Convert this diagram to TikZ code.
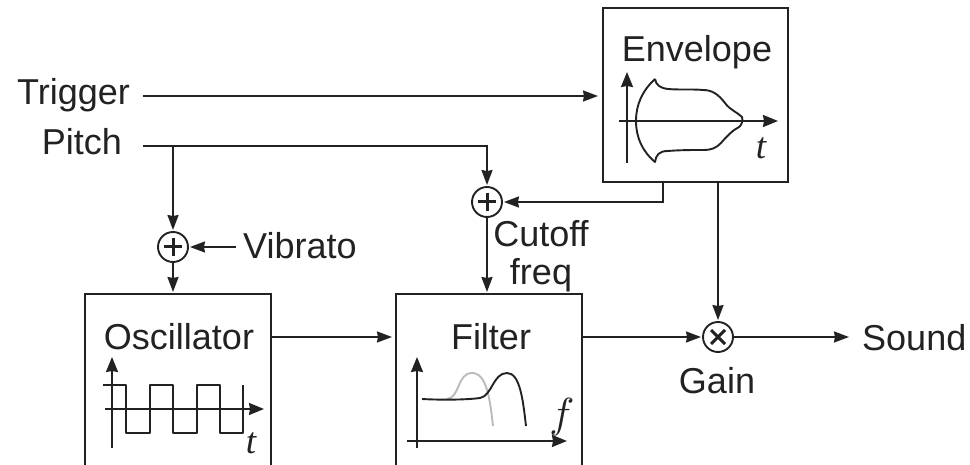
\documentclass[tikz,border=0pt]{standalone}
\usepackage{fontspec}
\setmainfont{Liberation Sans}
\newfontfamily\mathish{Liberation Serif}
\usetikzlibrary{arrows.meta,calc}
\definecolor{ink}{HTML}{222222}
\definecolor{soft}{HTML}{BBBBBB}
\tikzset{
  wire/.style={draw=ink,line width=1.9pt},
  arrowwire/.style={wire,shorten >=1pt,-{Stealth[length=15pt,width=11pt,inset=1pt]}},
  axisline/.style={draw=ink,line width=1.8pt,-{Stealth[length=15pt,width=12pt,inset=1pt]}},
  trace/.style={draw=ink,line width=1.9pt,line join=round},
  blockbox/.style={draw=ink,line width=2.2pt,inner sep=0pt,anchor=north west},
  junction/.style={circle,draw=ink,line width=1.9pt,minimum size=30pt,inner sep=0pt},
  lbl/.style={text=ink,font=\fontsize{36}{36}\selectfont,inner sep=0pt},
  varlabel/.style={text=ink,font=\mathish\itshape\fontsize{37}{37}\selectfont,inner sep=0pt},
  sign/.style={line width=3pt,draw=ink}
}
\begin{document}
\begin{tikzpicture}[x=1pt,y=-1pt]
\useasboundingbox (0,0) rectangle (970,465);
\clip (0,0) rectangle (970,465);
% blocks
\node[blockbox,minimum width=185pt,minimum height=174pt] (env) at (602,7) {};
\node[blockbox,minimum width=186pt,minimum height=200pt] (osc) at (84,293) {};
\node[blockbox,minimum width=186pt,minimum height=200pt] (fil) at (395,293) {};
% junctions
\node[junction] (pa) at (173,247) {};
\node[junction] (pb) at (487,202) {};
\node[junction] (mul) at (718,337) {};
\draw[sign] (pa.center) ++(-9,0) -- ++(18,0) (pa.center) ++(0,-9) -- ++(0,18);
\draw[sign] (pb.center) ++(-9,0) -- ++(18,0) (pb.center) ++(0,-9) -- ++(0,18);
\draw[sign] (mul.center) ++(-7,-7) -- ++(14,14) (mul.center) ++(7,-7) -- ++(-14,14);
% labels
\node[lbl,anchor=base east] (trig) at (130,105) {Trigger};
\node[lbl,anchor=base east] (pitch) at (122,155) {Pitch};
\node[lbl,anchor=base west] (vib) at (243,259) {Vibrato};
\node[lbl,anchor=base] (cut) at (541,247) {Cutoff};
\node[lbl,anchor=base] (freq) at (541,285) {freq};
\node[lbl,anchor=base] (gain) at (717,393) {Gain};
\node[lbl,anchor=base west] (snd) at (862,350) {Sound};
\node[lbl,anchor=base] (envt) at (697,62) {Envelope};
\node[lbl,anchor=base] (osct) at (179,349) {Oscillator};
\node[lbl,anchor=base] (filt) at (491,349) {Filter};
% free ends of connectors
\coordinate (trigs) at (143,96);
\coordinate (pitchs) at (143,146);
\coordinate (vibs) at (236,247);
\coordinate (tap) at (173,146);
\coordinate (envout) at (663,181);
\coordinate (envgain) at (718,181);
\coordinate (sndin) at (850,337);
% connectors
\draw[arrowwire,shorten >=4pt] (trigs) -- (trigs -| env.west);
\draw[wire] (pitchs) -- (tap);
\draw[arrowwire] (tap) -- (pb.north |- tap) -- (pb.north);
\draw[arrowwire] (tap) -- (pa.north);
\draw[arrowwire] (vibs) -- (pa.east);
\draw[arrowwire] (pa.south) -- (pa.south |- osc.north);
\draw[arrowwire] (pb.south) -- (pb.south |- fil.north);
\draw[arrowwire] (envout) -- (envout |- pb.east) -- (pb.east);
\draw[arrowwire] (envgain) -- (mul.north);
\draw[arrowwire,shorten >=3pt] (osc.east |- mul.west) -- (fil.west |- mul.west);
\draw[arrowwire] (fil.east |- mul.west) -- (mul.west);
\draw[arrowwire] (mul.east) -- (sndin);
% envelope plot
\draw[axisline] (627,163) -- (627,72);
\draw[axisline] (619,121) -- (778,121);
\draw[trace] (655,79) .. controls (642,91) and (636,105) .. (636,121)
  .. controls (636,137) and (642,151) .. (655,162)
  .. controls (656,155) and (659,151) .. (668,151)
  .. controls (680,150) and (692,150) .. (703,150)
  .. controls (712,150) and (716,148) .. (721,143)
  .. controls (727,136) and (733,130) .. (739,127)
  .. controls (742,125) and (743,120) .. (742,117)
  .. controls (737,112) and (730,110) .. (725,103)
  .. controls (718,94) and (712,90) .. (703,90)
  .. controls (692,89) and (680,90) .. (668,89)
  .. controls (660,88) and (656,85) .. (655,79);
\node[varlabel] (tenv) at (761,148) {t};
% oscillator plot
\draw[axisline] (112,448) -- (112,357);
\draw[axisline] (105,409) -- (264,409);
\draw[trace] (103,385) -- (126,385) -- (126,433) -- (150,433) -- (150,385) -- (173,385) -- (173,433) -- (197,433) -- (197,385) -- (220,385) -- (220,433) -- (243,433) -- (243,385);
\node[varlabel] (tosc) at (251,443) {t};
% filter plot
\draw[axisline] (417,448) -- (417,357);
\draw[axisline] (407,441) -- (567,441);
\draw[draw=soft,line width=1.9pt] (447,399) .. controls (460,398) and (457,373) .. (472,373)
  .. controls (487,373) and (490,400) .. (493,426);
\draw[trace] (422,399) .. controls (440,400) and (465,400) .. (480,398)
  .. controls (492,396) and (493,373) .. (507,373)
  .. controls (520,373) and (523,400) .. (526,426);
\node[text=ink,scale=4.2,inner sep=0pt] (ffil) at (562,417) {$f$};
\end{tikzpicture}
\end{document}
